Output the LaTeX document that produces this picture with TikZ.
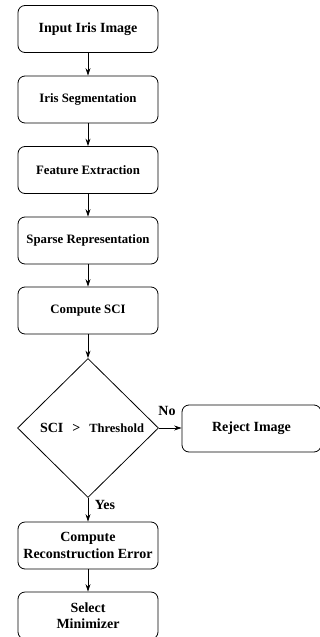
\documentclass[tikz,border=0pt]{standalone}
\usepackage{fontspec}
\setmainfont{Liberation Serif}
\usetikzlibrary{shapes.geometric,arrows.meta}
\begin{document}
\begin{tikzpicture}[x=1pt,y=-1pt,
  box/.style={draw,rounded corners=7pt,line width=0.8pt,minimum width=140pt,minimum height=47pt,align=center,inner sep=0pt,font=\fontsize{14}{16.5}\selectfont\bfseries},
  sbox/.style={box,font=\fontsize{12.8}{15}\selectfont\bfseries},
  dec/.style={draw,diamond,line width=0.8pt,minimum width=141pt,minimum height=139pt,inner sep=0pt},
  txt/.style={inner sep=0pt,font=\fontsize{14}{16.5}\selectfont\bfseries},
  arr/.style={line width=0.8pt,-{Stealth[length=7.5pt,width=5pt]}}
]
\useasboundingbox (0,0) rectangle (320,637);
\clip (0,0) rectangle (320,637);
\node[box] (b1) at (88,29) {Input Iris Image};
\node[sbox] (b2) at (88,99.5) {Iris Segmentation};
\node[sbox] (b3) at (88,170) {Feature Extraction};
\node[sbox] (b4) at (88,240.5) {Sparse Representation};
\node[sbox] (b5) at (88,310.5) {Compute SCI};
\node[dec] (d) at (88,428) {};
\node[txt] (dt) at (92,428) {SCI\hspace{9pt}>\hspace{9pt}{\fontsize{12.5}{14}\selectfont Threshold}};
\node[box,minimum width=139pt] (rej) at (251.5,428.5) {Reject Image};
\node[box] (b6) at (88,545.5) {Compute\\Reconstruction Error};
\node[box] (b7) at (88,615.5) {Select\\Minimizer};
\node[txt] (no) at (167,411) {No};
\node[txt] (yes) at (105,505) {Yes};
\draw[arr] (b1) -- (b2);
\draw[arr] (b2) -- (b3);
\draw[arr] (b3) -- (b4);
\draw[arr] (b4) -- (b5);
\draw[arr] (b5) -- (d);
\draw[arr] (d.east) -- (rej.west |- d.east);
\draw[arr] (d) -- (b6);
\draw[arr] (b6) -- (b7);
\end{tikzpicture}
\end{document}
